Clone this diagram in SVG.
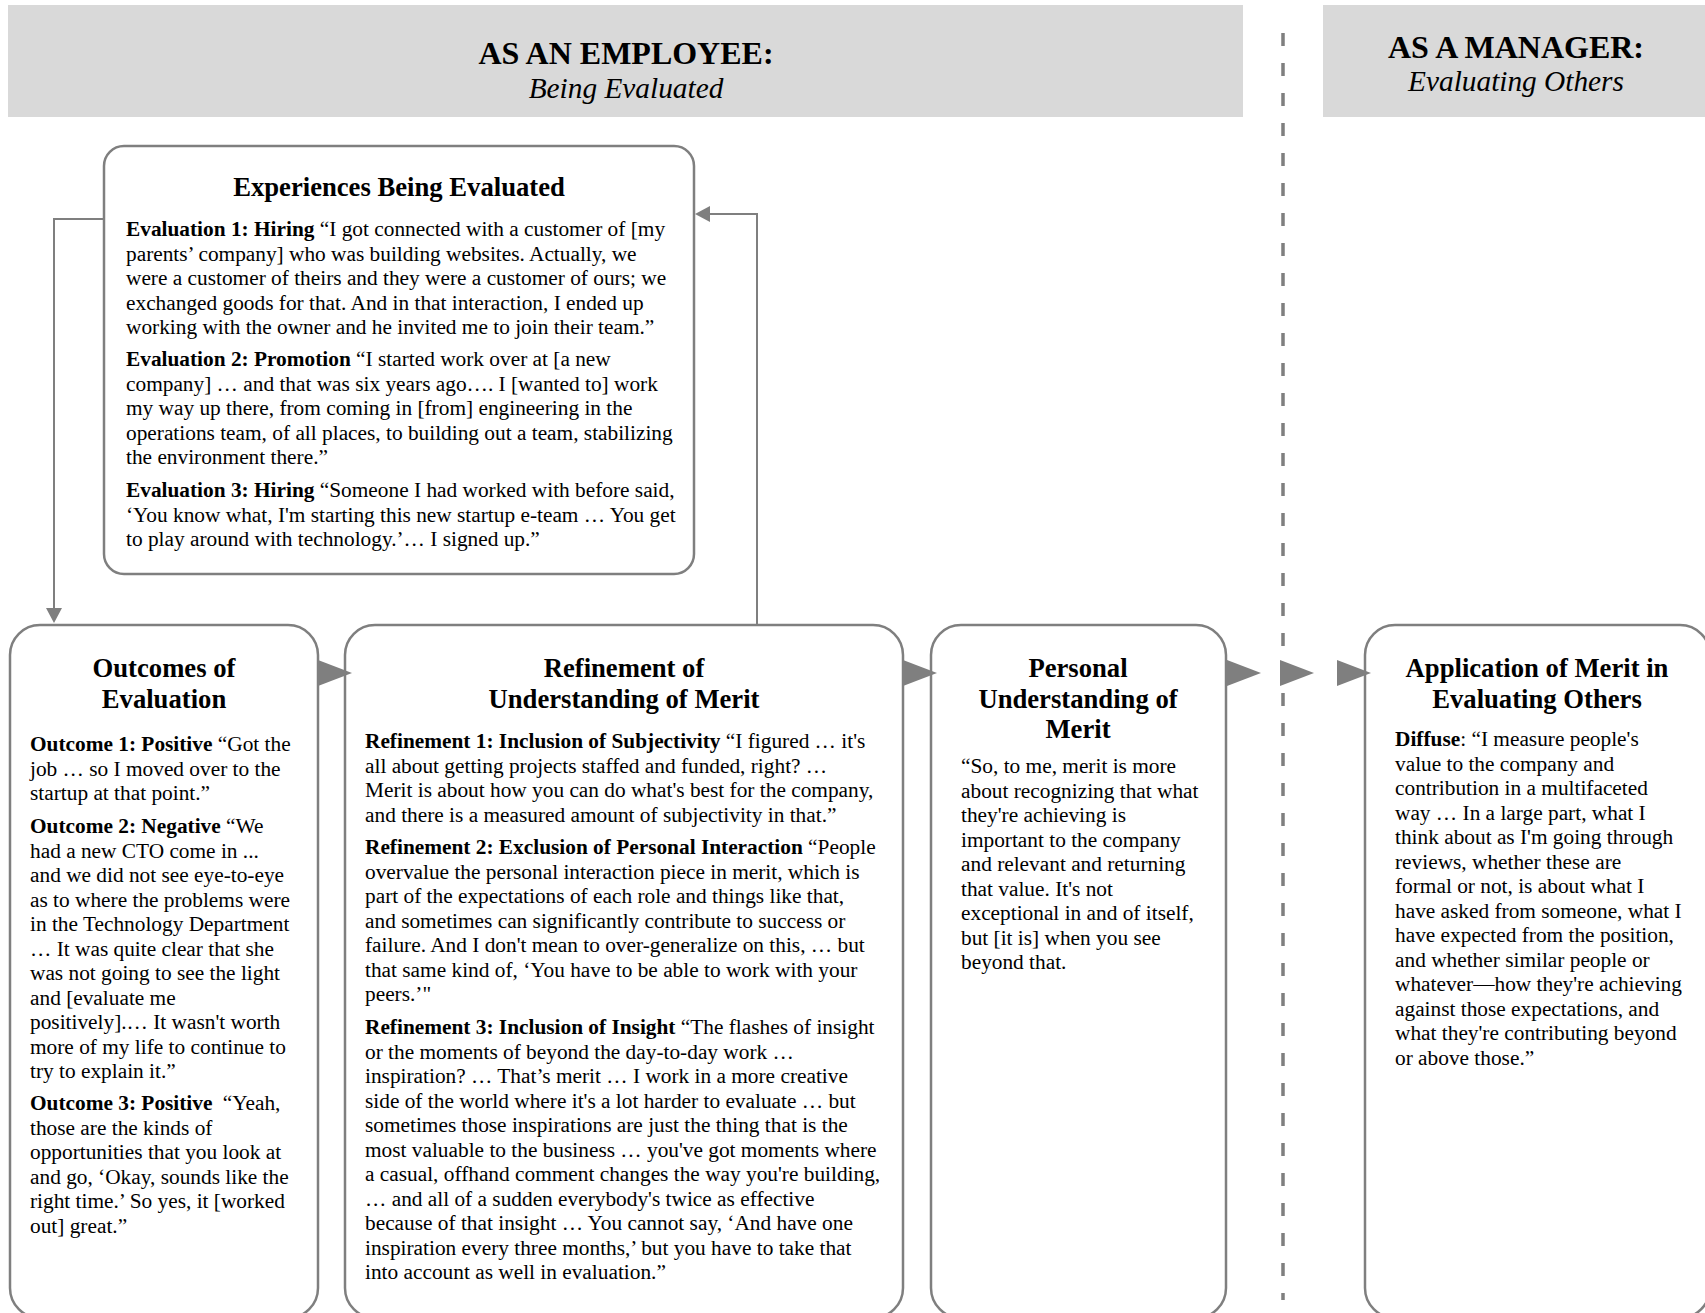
<svg xmlns="http://www.w3.org/2000/svg" width="1705" height="1313" viewBox="0 0 1705 1313">
<style>
.hdr{fill:#d9d9d9}
.h1{font-family:"Liberation Serif","Times New Roman",serif;font-weight:bold;font-size:32px;text-anchor:middle;fill:#000}
.h2{font-family:"Liberation Serif","Times New Roman",serif;font-style:italic;font-size:29.33px;text-anchor:middle;fill:#000}
.box{fill:#fff;stroke:#7f7f7f;stroke-width:2.5}
.t{font-family:"Liberation Serif","Times New Roman",serif;font-weight:bold;font-size:26.67px;text-anchor:middle;fill:#000}
.b{font-family:"Liberation Serif","Times New Roman",serif;font-size:21.33px;fill:#000}
.bb{font-weight:bold}
.line{fill:none;stroke:#7f7f7f;stroke-width:2}
.head{fill:#7f7f7f}
.div{stroke:#7f7f7f;stroke-width:3.5;stroke-dasharray:13 17}
</style>
<rect width="1705" height="1313" fill="#fff"/>
<g id="header-employee">
<rect class="hdr" x="8" y="5" width="1235" height="112"/>
<text class="h1" x="626" y="64">AS AN EMPLOYEE:</text>
<text class="h2" x="626" y="98">Being Evaluated</text>
</g>
<g id="header-manager">
<rect class="hdr" x="1323" y="5" width="382" height="112"/>
<text class="h1" x="1516" y="58">AS A MANAGER:</text>
<text class="h2" x="1516" y="91">Evaluating Others</text>
</g>
<g id="divider">
<line class="div" x1="1283" y1="33" x2="1283" y2="1300"/>
</g>
<g id="experiences">
<rect class="box" x="104" y="146" width="590" height="428" rx="20"/>
<text class="t" x="399" y="196">Experiences Being Evaluated</text>
<text class="b">
<tspan x="126" y="236"><tspan class="bb">Evaluation 1: Hiring</tspan> “I got connected with a customer of [my</tspan>
<tspan x="126" y="260.5">parents’ company] who was building websites. Actually, we</tspan>
<tspan x="126" y="285">were a customer of theirs and they were a customer of ours; we</tspan>
<tspan x="126" y="309.6">exchanged goods for that. And in that interaction, I ended up</tspan>
<tspan x="126" y="334.1">working with the owner and he invited me to join their team.”</tspan>
<tspan x="126" y="366"><tspan class="bb">Evaluation 2: Promotion</tspan> “I started work over at [a new</tspan>
<tspan x="126" y="390.5">company] … and that was six years ago…. I [wanted to] work</tspan>
<tspan x="126" y="415">my way up there, from coming in [from] engineering in the</tspan>
<tspan x="126" y="439.6">operations team, of all places, to building out a team, stabilizing</tspan>
<tspan x="126" y="464.1">the environment there.”</tspan>
<tspan x="126" y="497"><tspan class="bb">Evaluation 3: Hiring</tspan> “Someone I had worked with before said,</tspan>
<tspan x="126" y="521.5">‘You know what, I'm starting this new startup e-team … You get</tspan>
<tspan x="126" y="546">to play around with technology.’… I signed up.”</tspan>
</text>
</g>
<g id="outcomes">
<rect class="box" x="10" y="625" width="308" height="693" rx="30"/>
<text class="t"><tspan x="164" y="677">Outcomes of</tspan><tspan x="164" y="708">Evaluation</tspan></text>
<text class="b">
<tspan x="30" y="751"><tspan class="bb">Outcome 1: Positive</tspan> “Got the</tspan>
<tspan x="30" y="775.5">job … so I moved over to the</tspan>
<tspan x="30" y="800">startup at that point.”</tspan>
<tspan x="30" y="833"><tspan class="bb">Outcome 2: Negative</tspan> “We</tspan>
<tspan x="30" y="857.5">had a new CTO come in ...</tspan>
<tspan x="30" y="882">and we did not see eye-to-eye</tspan>
<tspan x="30" y="906.6">as to where the problems were</tspan>
<tspan x="30" y="931.1">in the Technology Department</tspan>
<tspan x="30" y="955.7">… It was quite clear that she</tspan>
<tspan x="30" y="980.2">was not going to see the light</tspan>
<tspan x="30" y="1004.7">and [evaluate me</tspan>
<tspan x="30" y="1029.2">positively].… It wasn't worth</tspan>
<tspan x="30" y="1053.8">more of my life to continue to</tspan>
<tspan x="30" y="1078.3">try to explain it.”</tspan>
<tspan x="30" y="1110"><tspan class="bb">Outcome 3: Positive</tspan> <tspan dx="5">“Yeah,</tspan></tspan>
<tspan x="30" y="1134.5">those are the kinds of</tspan>
<tspan x="30" y="1159">opportunities that you look at</tspan>
<tspan x="30" y="1183.6">and go, ‘Okay, sounds like the</tspan>
<tspan x="30" y="1208.1">right time.’ So yes, it [worked</tspan>
<tspan x="30" y="1232.7">out] great.”</tspan>
</text>
</g>
<g id="refinement">
<rect class="box" x="345" y="625" width="558" height="693" rx="30"/>
<text class="t"><tspan x="624" y="677">Refinement of</tspan><tspan x="624" y="708">Understanding of Merit</tspan></text>
<text class="b">
<tspan x="365" y="748"><tspan class="bb">Refinement 1: Inclusion of Subjectivity</tspan> “I figured … it's</tspan>
<tspan x="365" y="772.5">all about getting projects staffed and funded, right? …</tspan>
<tspan x="365" y="797">Merit is about how you can do what's best for the company,</tspan>
<tspan x="365" y="821.6">and there is a measured amount of subjectivity in that.”</tspan>
<tspan x="365" y="854"><tspan class="bb">Refinement 2: Exclusion of Personal Interaction</tspan> “People</tspan>
<tspan x="365" y="878.5">overvalue the personal interaction piece in merit, which is</tspan>
<tspan x="365" y="903">part of the expectations of each role and things like that,</tspan>
<tspan x="365" y="927.6">and sometimes can significantly contribute to success or</tspan>
<tspan x="365" y="952.1">failure. And I don't mean to over-generalize on this, … but</tspan>
<tspan x="365" y="976.7">that same kind of, ‘You have to be able to work with your</tspan>
<tspan x="365" y="1001.2">peers.’"</tspan>
<tspan x="365" y="1034"><tspan class="bb">Refinement 3: Inclusion of Insight</tspan> “The flashes of insight</tspan>
<tspan x="365" y="1058.5">or the moments of beyond the day-to-day work …</tspan>
<tspan x="365" y="1083">inspiration? … That’s merit … I work in a more creative</tspan>
<tspan x="365" y="1107.6">side of the world where it's a lot harder to evaluate … but</tspan>
<tspan x="365" y="1132.1">sometimes those inspirations are just the thing that is the</tspan>
<tspan x="365" y="1156.7">most valuable to the business … you've got moments where</tspan>
<tspan x="365" y="1181.2">a casual, offhand comment changes the way you're building,</tspan>
<tspan x="365" y="1205.7">… and all of a sudden everybody's twice as effective</tspan>
<tspan x="365" y="1230.2">because of that insight … You cannot say, ‘And have one</tspan>
<tspan x="365" y="1254.8">inspiration every three months,’ but you have to take that</tspan>
<tspan x="365" y="1279.3">into account as well in evaluation.”</tspan>
</text>
</g>
<g id="personal">
<rect class="box" x="931" y="625" width="295" height="693" rx="30"/>
<text class="t"><tspan x="1078" y="677">Personal</tspan><tspan x="1078" y="708">Understanding of</tspan><tspan x="1078" y="738">Merit</tspan></text>
<text class="b">
<tspan x="961" y="773">“So, to me, merit is more</tspan>
<tspan x="961" y="797.5">about recognizing that what</tspan>
<tspan x="961" y="822">they're achieving is</tspan>
<tspan x="961" y="846.6">important to the company</tspan>
<tspan x="961" y="871.1">and relevant and returning</tspan>
<tspan x="961" y="895.7">that value. It's not</tspan>
<tspan x="961" y="920.2">exceptional in and of itself,</tspan>
<tspan x="961" y="944.7">but [it is] when you see</tspan>
<tspan x="961" y="969.2">beyond that.</tspan>
</text>
</g>
<g id="application">
<rect class="box" x="1365" y="625" width="345" height="693" rx="30"/>
<text class="t"><tspan x="1537" y="677">Application of Merit in</tspan><tspan x="1537" y="708">Evaluating Others</tspan></text>
<text class="b">
<tspan x="1395" y="746"><tspan class="bb">Diffuse</tspan>: “I measure people's</tspan>
<tspan x="1395" y="770.5">value to the company and</tspan>
<tspan x="1395" y="795">contribution in a multifaceted</tspan>
<tspan x="1395" y="819.6">way … In a large part, what I</tspan>
<tspan x="1395" y="844.1">think about as I'm going through</tspan>
<tspan x="1395" y="868.7">reviews, whether these are</tspan>
<tspan x="1395" y="893.2">formal or not, is about what I</tspan>
<tspan x="1395" y="917.7">have asked from someone, what I</tspan>
<tspan x="1395" y="942.2">have expected from the position,</tspan>
<tspan x="1395" y="966.8">and whether similar people or</tspan>
<tspan x="1395" y="991.3">whatever—how they're achieving</tspan>
<tspan x="1395" y="1015.8">against those expectations, and</tspan>
<tspan x="1395" y="1040.4">what they're contributing beyond</tspan>
<tspan x="1395" y="1064.9">or above those.”</tspan>
</text>
</g>
<g id="connectors">
<polyline class="line" points="104,219 54,219 54,609"/>
<path class="head" d="M46,608 L62,608 L54,623 Z"/>
<polyline class="line" points="757,625 757,214 709,214"/>
<path class="head" d="M710,206 L710,222 L695,214 Z"/>
<path class="head" d="M318,660 L352,673 L318,686 Z"/>
<path class="head" d="M903,660 L937,673 L903,686 Z"/>
<path class="head" d="M1227,660 L1261,673 L1227,686 Z"/>
<path class="head" d="M1280,660 L1314,673 L1280,686 Z"/>
<path class="head" d="M1337,660 L1371,673 L1337,686 Z"/>
</g>
</svg>
